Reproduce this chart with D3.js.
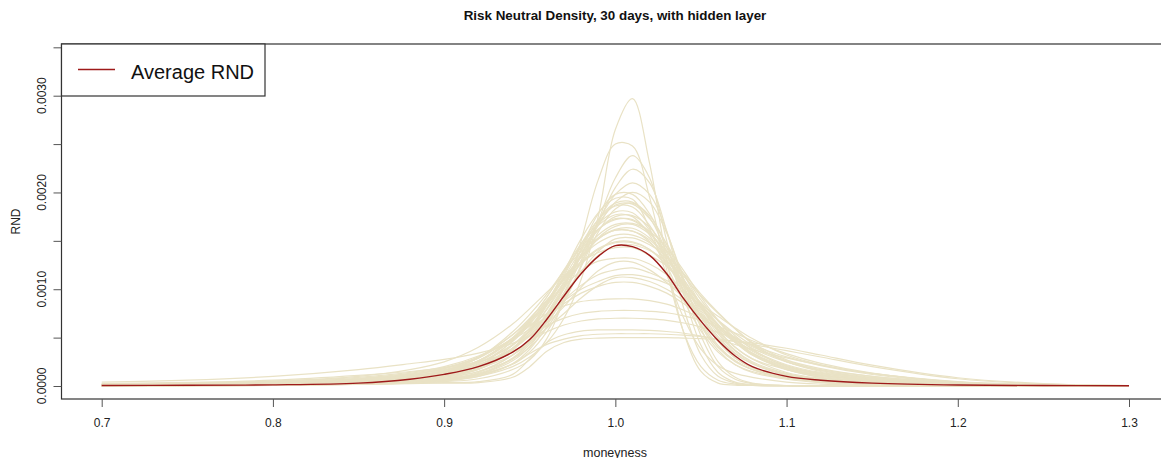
<!DOCTYPE html>
<html><head><meta charset="utf-8">
<script src="https://cdn.jsdelivr.net/npm/d3@7"></script>
<style>
body{margin:0;background:#fff}
svg{display:block}
text{font-family:"Liberation Sans",Arial,sans-serif}
</style>
</head><body>
<svg id="chart" width="1161" height="458"></svg>
<script>
// ---- data (RND values in units of 1e-4) ----
const moneyness = [0.70,0.75,0.80,0.85,0.88,0.90,0.92,0.94,0.95,0.96,0.97,0.98,0.99,1.00,1.01,1.02,1.03,1.04,1.05,1.06,1.07,1.08,1.10,1.12,1.15,1.20,1.25,1.30];

const hiddenLayerRND = [
 [0,0,0.05,0.2,0.4,0.6,1.0,2.0,3.0,4.5,7.0,11.0,17.5,26.5,29.7,23.0,13.0,5.5,1.5,0.3,0.1,0.05,0,0,0,0,0,0],
 [0.03,0.05,0.1,0.2,0.3,0.45,0.75,1.7,2.7,4.9,9.0,15.0,21.3,25.0,24.8,19.5,12.0,5.5,2.0,0.6,0.2,0.05,0,0,0,0,0,0],
 [0,0.02,0.08,0.3,0.6,0.9,1.5,2.8,4.0,6.0,8.8,12.5,17.0,21.5,23.8,21.5,15.0,8.0,3.2,1.0,0.3,0.1,0,0,0,0,0,0],
 [0,0.02,0.1,0.35,0.7,1.1,1.8,3.2,4.5,6.6,9.5,13.0,16.8,20.5,22.4,21.0,16.0,9.5,4.2,1.4,0.4,0.15,0.05,0,0,0,0,0],
 [0.02,0.05,0.15,0.45,0.9,1.4,2.2,3.8,5.2,7.4,10.2,13.5,17.0,19.8,21.0,19.8,16.0,10.5,5.2,2.0,0.7,0.25,0.05,0,0,0,0,0],
 [0.02,0.05,0.15,0.5,1.0,1.5,2.4,4.2,5.7,7.9,10.6,13.6,16.6,19.0,20.0,19.0,15.8,11.0,6.0,2.5,0.9,0.3,0.05,0,0,0,0,0],
 [0.05,0.08,0.13,0.25,0.4,0.6,1.2,2.6,4.1,6.7,10.2,14.2,17.8,19.8,19.8,17.8,14.3,10.2,6.7,4.2,2.6,1.7,0.8,0.4,0.2,0.06,0.02,0.01],
 [0.08,0.12,0.2,0.4,0.7,1.1,1.9,3.9,5.8,8.6,11.8,15.2,17.9,19.4,19.3,16.3,11.5,7.0,3.8,2.1,1.3,0.9,0.4,0.2,0.1,0.04,0.01,0],
 [0.03,0.05,0.08,0.17,0.3,0.5,1.0,2.3,3.8,6.2,9.6,13.5,16.8,18.7,18.8,17.3,14.7,11.5,8.4,5.6,3.7,2.5,1.3,0.7,0.4,0.1,0.04,0.01],
 [0.1,0.15,0.25,0.5,0.8,1.2,2.0,3.9,5.7,8.4,11.4,14.7,17.2,18.6,18.5,16.6,13.5,9.7,6.4,4.0,2.5,1.7,0.9,0.5,0.2,0.06,0.02,0.01],
 [0.05,0.08,0.15,0.35,0.7,1.2,2.1,4.7,6.8,9.2,12.0,14.7,16.8,18.0,17.9,16.1,13.0,9.4,6.3,4.0,2.6,1.7,1.0,0.6,0.3,0.1,0.04,0.01],
 [0.03,0.05,0.08,0.2,0.4,0.7,1.4,3.2,4.9,7.5,10.4,13.6,16.1,17.5,17.6,16.4,14.0,11.0,8.2,5.7,4.0,2.8,1.7,1.1,0.6,0.2,0.07,0.02],
 [0.12,0.18,0.3,0.6,1.0,1.6,2.6,5.0,6.9,9.2,11.9,14.3,16.2,17.3,17.1,15.8,13.5,10.5,7.6,5.1,3.4,2.3,1.1,0.6,0.3,0.06,0.02,0.01],
 [0.05,0.08,0.13,0.3,0.5,0.8,1.5,3.2,4.8,7.2,10.0,12.9,15.3,16.5,16.7,15.7,13.9,11.5,8.9,6.7,4.9,3.4,1.9,1.1,0.6,0.2,0.06,0.02],
 [0.08,0.12,0.25,0.5,1.0,1.6,2.9,5.6,7.4,9.5,11.9,13.9,15.3,16.1,16.0,14.9,12.7,9.9,7.3,4.9,3.3,2.3,1.2,0.7,0.4,0.1,0.04,0.01],
 [0.15,0.23,0.4,0.75,1.2,1.7,2.6,4.9,6.7,8.8,11.1,13.4,15.2,16.1,16.0,15.1,13.3,11.0,8.5,6.4,4.6,3.2,1.7,0.9,0.45,0.13,0.04,0.01],
 [0.03,0.05,0.08,0.2,0.4,0.6,1.2,2.8,4.3,6.5,9.0,11.8,13.9,15.2,15.3,14.6,13.4,11.6,9.5,7.6,5.9,4.4,2.5,1.6,0.9,0.3,0.08,0.02],
 [0.1,0.15,0.3,0.6,1.1,1.6,2.9,5.3,7.0,8.9,11.0,12.8,14.2,14.9,14.9,14.1,12.4,10.4,8.1,6.1,4.5,3.2,1.8,1.1,0.6,0.2,0.06,0.02],
 [0.05,0.08,0.14,0.3,0.6,1.0,1.7,3.8,5.4,7.4,9.6,11.7,13.5,14.5,14.6,14.0,12.9,11.3,9.3,7.5,5.9,4.5,2.7,1.8,1.0,0.35,0.11,0.03],
 [0.18,0.28,0.5,1.0,1.7,2.5,4.0,6.4,8.0,9.7,11.4,12.8,13.8,14.3,14.3,13.5,12.4,10.6,8.6,6.8,5.2,3.8,2.0,1.2,0.6,0.17,0.04,0.01],
 [0.04,0.06,0.1,0.22,0.38,0.6,1.1,2.3,3.5,5.6,8.6,12.3,15.9,18.3,18.9,17.6,14.6,10.8,7.3,4.6,2.9,1.9,0.9,0.5,0.25,0.07,0.02,0.01],
 [0.06,0.1,0.18,0.4,0.7,1.1,2.0,4.2,6.0,8.6,11.6,14.5,16.6,17.7,17.5,15.6,12.4,8.8,5.7,3.5,2.2,1.5,0.8,0.4,0.2,0.05,0.02,0],
 [0.06,0.09,0.15,0.3,0.55,0.9,1.7,3.7,5.5,8.0,10.8,13.5,15.6,16.7,16.8,16.0,14.3,11.9,9.2,6.8,4.8,3.3,1.7,0.9,0.4,0.1,0.03,0.01],
 [0.1,0.15,0.25,0.5,0.9,1.4,2.5,4.8,6.6,8.8,11.2,13.3,14.8,15.6,15.6,14.8,13.0,10.6,8.0,5.8,4.0,2.8,1.4,0.8,0.4,0.1,0.03,0.01],
 [0.05,0.08,0.12,0.25,0.45,0.7,1.3,2.9,4.5,7.0,10.3,14.0,17.2,18.9,19.0,17.4,13.8,9.8,6.2,3.7,2.2,1.4,0.7,0.35,0.15,0.04,0.01,0],
 [0.07,0.1,0.17,0.35,0.6,1.0,1.8,3.9,5.8,8.3,11.2,14.0,16.2,17.2,17.2,15.9,13.4,10.2,7.1,4.6,2.9,1.9,0.9,0.5,0.25,0.07,0.02,0.01],
 [0.09,0.13,0.22,0.45,0.8,1.3,2.3,4.6,6.4,8.6,11.0,13.3,15.2,16.2,16.3,15.3,13.3,10.6,7.8,5.4,3.6,2.4,1.2,0.7,0.35,0.1,0.03,0.01],
 [0.12,0.18,0.3,0.6,1.0,1.5,2.6,4.9,6.5,8.4,10.6,12.6,14.1,14.8,14.8,14.1,12.6,10.6,8.4,6.3,4.6,3.3,1.8,1.0,0.5,0.15,0.05,0.01],
 [0.14,0.2,0.35,0.7,1.2,1.8,3.0,5.3,6.8,8.5,10.3,11.9,12.9,13.2,13.2,12.6,11.5,9.9,8.1,6.3,4.8,3.6,2.1,1.3,0.7,0.22,0.07,0.02],
 [0.4,0.6,1.0,1.7,2.3,2.75,3.4,4.4,5.2,6.5,8.2,10.2,11.9,12.8,12.8,12.0,10.7,9.1,7.4,5.8,4.5,3.4,2.0,1.3,0.7,0.22,0.07,0.02],
 [0.25,0.38,0.6,1.1,1.5,1.9,2.5,3.6,4.6,6.0,7.5,9.1,10.4,11.2,11.2,10.8,10.0,8.8,7.4,6.2,5.0,3.9,2.5,1.7,1.0,0.34,0.11,0.03],
 [0.15,0.24,0.4,0.8,1.3,1.9,3.0,4.9,6.2,7.5,8.8,10.0,10.8,11.4,11.5,11.2,10.6,9.6,8.4,7.2,6.0,4.9,3.2,2.2,1.3,0.46,0.15,0.04],
 [0.1,0.15,0.3,0.6,1.0,1.4,2.4,4.3,5.7,7.2,8.9,10.4,11.5,12.0,12.2,11.7,10.9,9.7,8.2,6.8,5.4,4.2,2.5,1.5,0.8,0.26,0.08,0.02],
 [0.2,0.3,0.5,0.9,1.4,2.0,3.1,4.8,5.9,7.2,8.5,9.6,10.3,10.7,10.7,10.3,9.6,8.5,7.2,5.9,4.7,3.7,2.2,1.4,0.8,0.25,0.08,0.02],
 [0,0.05,0.1,0.2,0.25,0.3,0.35,0.9,2.0,3.6,4.5,4.85,4.95,5.0,5.0,5.0,5.0,4.95,4.9,4.8,4.65,4.45,3.9,3.2,2.15,0.85,0.25,0.05],
 [0.05,0.1,0.2,0.4,0.55,0.75,1.2,2.25,3.35,4.3,4.85,5.2,5.35,5.4,5.4,5.4,5.35,5.25,5.1,4.85,4.6,4.3,3.65,3.0,2.0,0.75,0.2,0.05],
 [0,0.06,0.12,0.2,0.3,0.35,0.45,1.2,2.8,4.5,5.3,5.68,5.8,5.8,5.8,5.74,5.63,5.45,5.16,4.76,4.29,3.77,2.9,2.15,1.28,0.41,0.12,0],
 [0.07,0.14,0.28,0.56,0.91,1.26,1.96,3.5,4.62,5.6,6.3,6.72,6.93,7.0,7.0,6.93,6.79,6.51,6.09,5.53,4.9,4.2,3.01,2.1,1.19,0.35,0.07,0],
 [0.08,0.16,0.31,0.62,1.01,1.4,2.18,3.9,5.15,6.24,7.02,7.49,7.72,7.8,7.8,7.72,7.57,7.25,6.79,6.16,5.46,4.68,3.35,2.34,1.33,0.39,0.08,0],
 [0.09,0.18,0.36,0.72,1.17,1.8,2.88,4.95,6.3,7.47,8.28,8.73,8.91,9.0,9.0,8.82,8.46,7.83,7.02,6.03,5.04,4.05,2.61,1.62,0.81,0.18,0,0]
];

const averageRND = [0.05,0.07,0.12,0.3,0.7,1.2,2.0,3.5,4.8,6.9,9.3,11.6,13.4,14.5,14.4,13.5,11.6,9.0,6.7,4.7,3.1,2.0,1.0,0.6,0.3,0.1,0.05,0.02];

const UNIT = 1e-4;
const xTicks = [0.7,0.8,0.9,1.0,1.1,1.2,1.3];
const xTickLabels = ["0.7","0.8","0.9","1.0","1.1","1.2","1.3"];
const yTicks = [0,0.0005,0.001,0.0015,0.002,0.0025,0.003,0.0035];
const yTickLabels = ["0.0000","","0.0010","","0.0020","","0.0030",""];
const titleText = "Risk Neutral Density, 30 days, with hidden layer";
const xLabel = "moneyness";
const yLabel = "RND";
const legendLabel = "Average RND";

// ---- drawing ----
const svg = d3.select("#chart");
const box = {left:61.5, right:1170, top:44, bottom:399};
const x = d3.scaleLinear().domain([0.7,1.3]).range([101.7,1129]);
const y = d3.scaleLinear().domain([0,0.003]).range([386,95.7]);

const beige = "#e9e2c5";
const red = "#9e1a1a";

const line = d3.line()
  .x((d,i)=>x(moneyness[i]))
  .y(d=>y(d*UNIT))
  .curve(d3.curveCatmullRom.alpha(0.5));

svg.append("g").selectAll("path").data(hiddenLayerRND).join("path")
  .attr("d", line).attr("fill","none").attr("stroke",beige).attr("stroke-width",1.2);

svg.append("path").datum(averageRND).attr("d", line)
  .attr("fill","none").attr("stroke",red).attr("stroke-width",1.4);

// box
svg.append("rect").attr("x",box.left).attr("y",box.top)
  .attr("width",box.right-box.left).attr("height",box.bottom-box.top)
  .attr("fill","none").attr("stroke","#333").attr("stroke-width",1.2);

// x axis
const gx = svg.append("g").attr("transform",`translate(0,${box.bottom})`)
  .call(d3.axisBottom(x).tickValues(xTicks).tickFormat((d,i)=>xTickLabels[i]).tickSize(8).tickPadding(11));
gx.select(".domain").remove();
gx.selectAll("line").attr("stroke","#555");
gx.selectAll("text").attr("font-size",12).attr("fill","#222").attr("font-family","'Liberation Sans',Arial,sans-serif");

// y axis
const gy = svg.append("g").attr("transform",`translate(${box.left},0)`)
  .call(d3.axisLeft(y).tickValues(yTicks).tickFormat(()=>"").tickSize(8));
gy.select(".domain").remove();
gy.selectAll("line").attr("stroke","#555");
svg.append("g").selectAll("text").data(yTicks.filter((d,i)=>yTickLabels[i]!=="")).join("text")
  .attr("transform",d=>`translate(46,${y(d)}) rotate(-90)`)
  .attr("text-anchor","middle").attr("font-size",12).attr("fill","#222")
  .text(d=>yTickLabels[yTicks.indexOf(d)]);

// titles
svg.append("text").attr("x",615).attr("y",19.5).attr("text-anchor","middle")
  .attr("font-size",13.4).attr("font-weight","bold").attr("fill","#111").text(titleText);
svg.append("text").attr("x",615).attr("y",456.5).attr("text-anchor","middle")
  .attr("font-size",12.5).attr("fill","#222").text(xLabel);
svg.append("text").attr("transform",`translate(19.5,${(box.top+box.bottom)/2}) rotate(-90)`)
  .attr("text-anchor","middle").attr("font-size",12).attr("fill","#222").text(yLabel);

// legend
svg.append("rect").attr("x",box.left).attr("y",box.top).attr("width",265-box.left).attr("height",96-box.top)
  .attr("fill","#fff").attr("stroke","#333").attr("stroke-width",1.2);
svg.append("line").attr("x1",78).attr("x2",115).attr("y1",69.5).attr("y2",69.5)
  .attr("stroke",red).attr("stroke-width",1.4);
svg.append("text").attr("x",131).attr("y",79).attr("font-size",20).attr("fill","#111").text(legendLabel);
</script>
</body></html>
